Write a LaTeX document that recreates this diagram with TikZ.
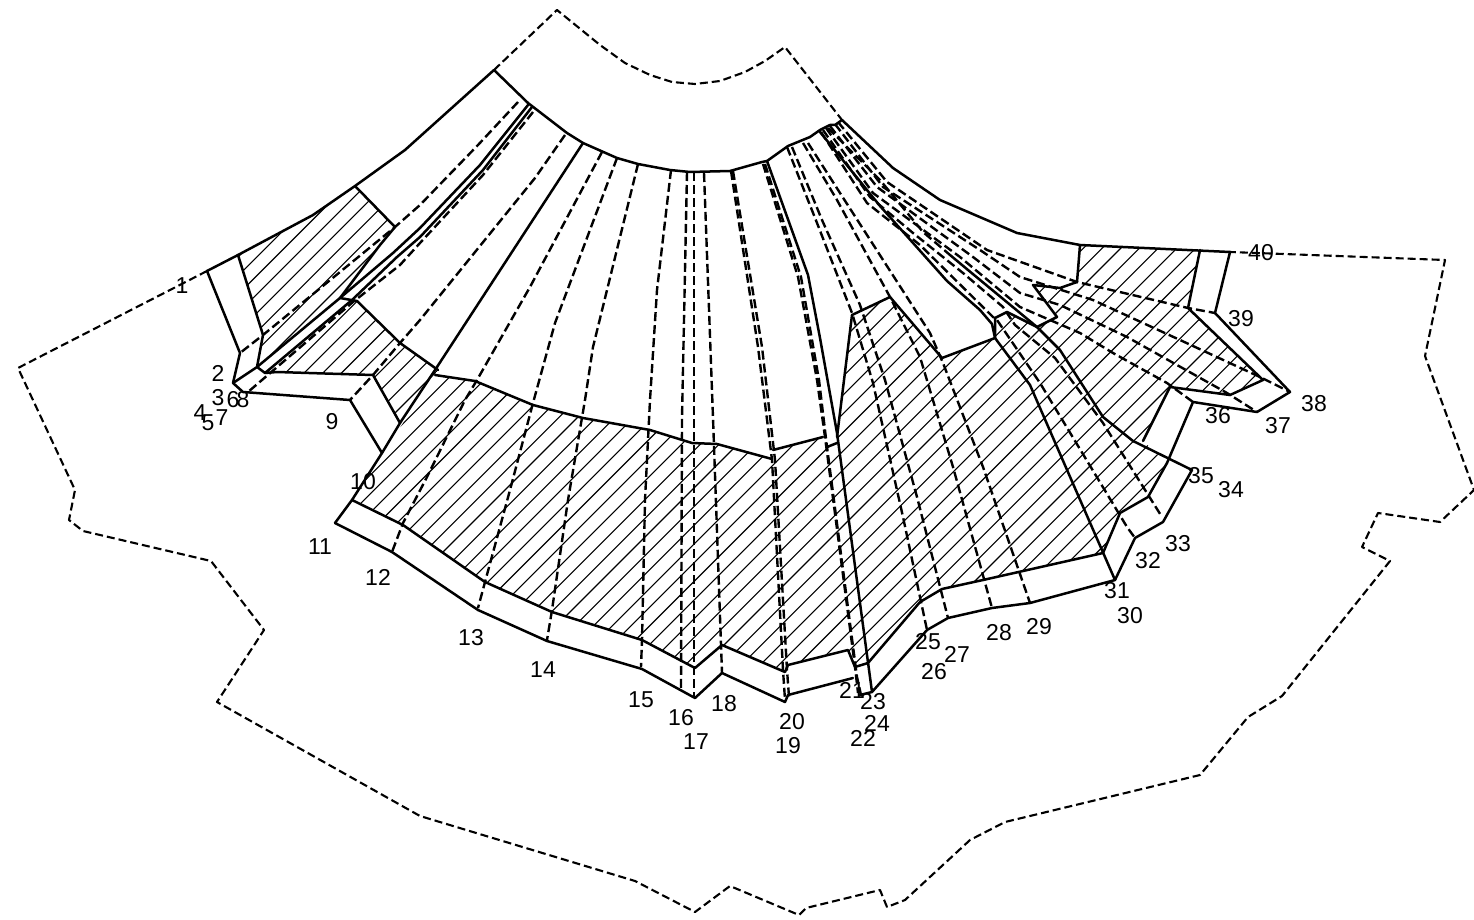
\documentclass[tikz,border=0pt]{standalone}
\usepackage{fontspec}
\setmainfont{Liberation Sans}
\tikzset{
  solidline/.style={line width=2.5pt,line join=round,line cap=round},
  foldline/.style={line width=2.4pt,line join=round,dash pattern=on 9pt off 4pt},
  outline/.style={line width=2.1pt,line join=round,dash pattern=on 8pt off 4pt},
  hatchline/.style={line width=1.1pt},
  lab/.style={font=\fontsize{23}{23}\selectfont,inner sep=0pt}
}
\newcommand{\hatchregion}[2]{%
  \begin{scope}\clip plot coordinates {#1} -- cycle;
    \foreach \k in {-45,...,45}{
      \pgfmathsetmacro{\cc}{995+#2+18.7*\k}
      \draw[hatchline] (\cc-1000,1000) -- (\cc,0);
    }
  \end{scope}}
\begin{document}
\begin{tikzpicture}[x=1pt,y=-1pt]
\useasboundingbox (0,0) rectangle (1474,920);
% hatching
\hatchregion{(238,255)(313,215)(355,186)(395,227)(380,245)(340,298)(257,367)(263,335)}{5}
\hatchregion{(265,373)(277,372)(373,375)(400,423)(438,370)(400,343)(357,301)}{0}
\hatchregion{(435,375)(475,381)(533,405)(583,418)(650,430)(692,443)(717,444)(772,459)(773,450)(823,437)(827,447)(837,443)(852,315)(890,297)(942,358)(995,338)(995,318)(1007,312)(1037,327)(1057,317)(1033,285)(1060,288)(1077,282)(1080,245)(1200,250)(1188,308)(1263,380)(1230,395)(1170,387)(1143,441)(1167,463)(1148,497)(1120,513)(1103,553)(983,580)(942,589)(920,602)(868,663)(855,667)(848,650)(788,665)(785,672)(722,645)(695,668)(642,640)(552,612)(485,582)(403,525)(352,500)}{0}
% outer pattern
\draw[outline] (207,271) -- (18,368) -- (75,490) -- (69,520) -- (83,531) -- (211,561) -- (264,630) -- (217,702) -- (420,816) -- (635,881) -- (695,912) -- (730,886) -- (799,915) -- (806,908) -- (880,890) -- (887,907) -- (905,900) -- (970,840) -- (1005,822) -- (1200,775) -- (1248,717) -- (1282,696) -- (1390,561) -- (1362,547) -- (1378,513) -- (1440,522) -- (1474,490) -- (1425,356) -- (1445,260) -- (1230,252);
\draw[outline] (494,70) -- (557,10) -- (600,45) -- (625,63) -- (650,75) -- (672,82) -- (695,84) -- (720,81) -- (745,72) -- (765,61) -- (785,47) -- (842,120);
% fold lines
\draw[foldline] plot coordinates {(518,102)(478,145)(420,205)(395,227)(263,335)(240,353)};
\draw[foldline] plot coordinates {(533,112)(483,175)(420,243)(400,265)(353,302)(248,392)};
\draw[foldline] plot coordinates {(565,135)(535,178)(420,320)(400,343)(373,375)(350,400)};
\draw[foldline] plot coordinates {(602,152)(530,287)(477,380)(465,400)(427,477)(403,523)(392,552)};
\draw[foldline] plot coordinates {(617,158)(555,323)(533,403)(510,490)(485,582)(478,608)};
\draw[foldline] plot coordinates {(638,164)(593,347)(585,400)(568,500)(552,610)(547,640)};
\draw[foldline] plot coordinates {(671,170)(657,290)(650,400)(645,500)(642,640)(641,667)};
\draw[foldline] plot coordinates {(687,172)(682,418)(681,688)};
\draw[foldline] plot coordinates {(694,172)(694,698)};
\draw[foldline] plot coordinates {(704,173)(713,418)(718,560)(722,673)};
\draw[foldline] plot coordinates {(731,171)(758,347)(772,460)(783,670)(785,700)};
\draw[foldline] plot coordinates {(733,171)(762,347)(775,460)(787,670)(789,697)};
\draw[foldline] plot coordinates {(763,164)(798,277)(817,380)(825,437)(855,667)(858,693)};
\draw[foldline] plot coordinates {(765,164)(801,277)(819,380)(827,447)(857,677)(861,695)};
\draw[foldline] plot coordinates {(787,147)(817,223)(852,313)(873,383)(903,517)(927,630)};
\draw[foldline] plot coordinates {(792,147)(822,220)(860,305)(885,380)(917,497)(948,618)};
\draw[foldline] plot coordinates {(803,143)(837,200)(890,297)(920,357)(953,467)(992,608)};
\draw[foldline] plot coordinates {(808,143)(840,193)(930,333)(943,363)(983,467)(1030,603)};
\draw[foldline] plot coordinates {(838,122)(843,128)(887,182)(987,250)(1077,282)(1188,308)(1215,313)};
\draw[foldline] plot coordinates {(835,124)(883,187)(980,250)(1020,277)(1093,300)(1180,340)(1260,377)(1290,392)};
\draw[foldline] plot coordinates {(830,126)(877,187)(973,257)(1020,293)(1060,305)(1127,337)(1177,365)(1227,393)(1257,412)};
\draw[foldline] plot coordinates {(826,128)(873,193)(960,257)(1020,307)(1043,317)(1080,333)(1113,353)(1167,383)(1193,402)};
\draw[foldline] plot coordinates {(828,128)(880,180)(923,232)(950,255)};
\draw[foldline] plot coordinates {(823,130)(870,197)(913,233)(963,273)(1003,307)(1015,325)(1055,358)(1103,423)(1162,517)};
\draw[foldline] plot coordinates {(821,132)(867,203)(920,245)(993,317)(997,320)(1040,383)(1127,527)(1135,538)};
% solid outlines
\draw[solidline] (207,271) -- (238,255) -- (313,215) -- (355,186) -- (405,150) -- (494,70) -- (528,103) -- (567,133) -- (583,143) -- (617,158) -- (638,164) -- (670,170) -- (690,172) -- (730,171) -- (762,162) -- (767,161) -- (788,146) -- (810,137) -- (820,130) -- (830,125) -- (835,125) -- (842,120) -- (893,168) -- (940,200) -- (1017,233) -- (1080,245) -- (1230,252);
\draw[solidline] (207,271) -- (240,353) -- (233,383) -- (243,392) -- (350,400) -- (382,453);
\draw[solidline] (238,255) -- (263,335) -- (257,367) -- (233,383);
\draw[solidline] (257,367) -- (265,373) -- (277,372) -- (373,375) -- (400,423);
\draw[solidline] (355,186) -- (395,227) -- (380,245) -- (340,298) -- (357,301) -- (400,343) -- (438,370);
\draw[solidline] (528,105) -- (480,165) -- (420,228) -- (393,253) -- (340,298) -- (257,367);
\draw[solidline] (532,107) -- (483,170) -- (420,237) -- (397,257) -- (352,300) -- (265,373);
\draw[solidline] (583,143) -- (437,367) -- (400,423) -- (382,453) -- (352,500) -- (335,523);
\draw[solidline] (335,523) -- (392,552) -- (478,610) -- (547,641) -- (642,669) -- (695,698) -- (722,673) -- (785,702) -- (788,695) -- (853,678);
\draw[solidline] (352,500) -- (403,525) -- (485,582) -- (552,612) -- (642,640) -- (695,668) -- (722,645) -- (785,672) -- (788,665) -- (848,650) -- (855,667) -- (868,663) -- (920,602) -- (942,589) -- (983,580) -- (1103,553);
\draw[solidline] (860,695) -- (872,692) -- (927,630) -- (948,618) -- (992,608) -- (1030,603) -- (1115,580);
\draw[solidline] (435,375) -- (475,381) -- (533,405) -- (583,418) -- (650,430) -- (692,443) -- (717,444) -- (772,459);
\draw[solidline] (773,450) -- (823,437);
\draw[solidline] (827,447) -- (837,443);
\draw[solidline] (767,161) -- (808,275) -- (820,338) -- (837,433) -- (872,692);
\draw[solidline] (837,437) -- (852,315) -- (890,297) -- (942,358) -- (995,338) -- (995,318) -- (1007,312) -- (1037,327) -- (1057,317) -- (1033,285) -- (1060,288) -- (1077,282) -- (1080,245);
\draw[solidline] (820,132) -- (880,206) -- (947,281) -- (980,310) -- (992,324) -- (995,338) -- (1030,385) -- (1115,580);
\draw[solidline] (950,255) -- (968,270) -- (1037,327) -- (1060,350) -- (1103,417) -- (1133,441) -- (1192,470) -- (1163,522) -- (1135,538) -- (1115,580);
\draw[solidline] (1103,553) -- (1120,513) -- (1148,497) -- (1167,463) -- (1193,402) -- (1257,412) -- (1290,392) -- (1215,313) -- (1230,252);
\draw[solidline] (1143,441) -- (1170,387) -- (1230,395) -- (1263,380) -- (1188,308) -- (1200,250);
% labels
\foreach \n/\x/\y in {1/182/286,2/218/373,3/218/398,4/200/413,5/208/423,6/233/400,7/222/418,8/243/400,9/332/422,10/363/482,11/320/547,12/378/577,13/471/638,14/543/670,15/641/700,16/681/718,17/696/742,18/724/704,19/788/746,20/792/722,21/852/690,22/863/738,23/873/702,24/877/723,25/928/642,26/934/672,27/957/654,28/999/633,29/1039/627,30/1130/616,31/1117/591,32/1148/561,33/1178/544,34/1231/490,35/1201/476,36/1218/416,37/1278/426,38/1314/404,39/1241/319,40/1261/253}
  \node[lab] (L\n) at (\x,\y) {\n};
\end{tikzpicture}
\end{document}
